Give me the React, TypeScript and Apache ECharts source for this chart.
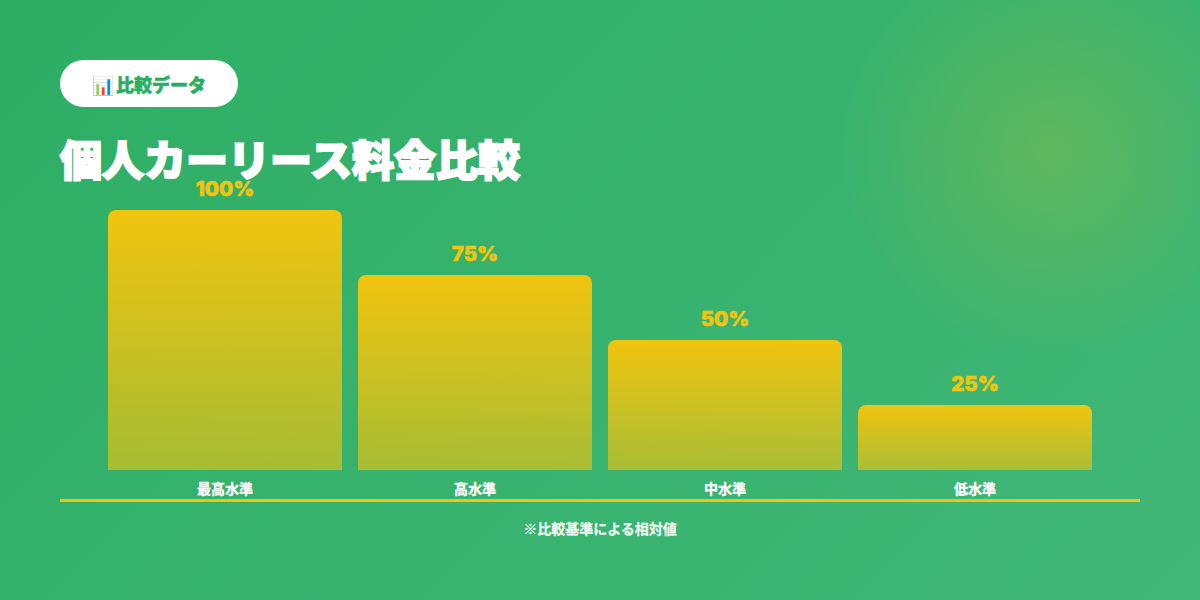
import React, { useEffect, useRef } from "react";
import * as echarts from "echarts";

const categories = ["最高水準", "高水準", "中水準", "低水準"];
const values = [100, 75, 50, 25];
const badgeIcon = "📊";
const badgeText = "比較データ";
const titleText = "個人カーリース料金比較";
const noteText = "※比較基準による相対値";

const FONT = '"Noto Sans CJK JP", "Noto Sans", sans-serif';
const NUM_FONT = 'Inter, sans-serif';
const GOLD = "#f1c40f";

export default function App() {
  const ref = useRef<HTMLDivElement>(null);
  useEffect(() => {
    document.body.style.margin = "0";
    const chart = echarts.init(ref.current!, null, { renderer: "svg" });
    chart.setOption({
      animation: false,
      backgroundColor: "transparent",
      grid: { left: 100, top: 210, width: 1000, height: 260 },
      xAxis: {
        type: "category",
        data: categories,
        axisLine: { show: false },
        axisTick: { show: false },
        axisLabel: {
          color: "#fff",
          fontFamily: FONT,
          fontSize: 14,
          fontWeight: "bold",
          margin: 11,
          textBorderColor: "#fff",
          textBorderWidth: 0.3,
        },
      },
      yAxis: { type: "value", min: 0, max: 100, show: false },
      series: [
        {
          type: "bar",
          data: values,
          barWidth: 234,
          itemStyle: {
            borderRadius: [8, 8, 0, 0],
            color: new echarts.graphic.LinearGradient(0, 0, 0, 1, [
              { offset: 0, color: GOLD },
              { offset: 1, color: "rgba(241,196,15,0.6)" },
            ]),
          },
          label: {
            show: true,
            position: "top",
            distance: 11,
            formatter: "{c}%",
            color: GOLD,
            fontFamily: NUM_FONT,
            fontSize: 20.5,
            fontWeight: 800,
            textBorderColor: GOLD,
            textBorderWidth: 0.7,
          },
        },
      ],
      graphic: [
        { type: "rect", shape: { x: 60, y: 60, width: 178, height: 47, r: 23.5 }, style: { fill: "#fff" } },
        {
          type: "text",
          x: 92,
          y: 84,
          style: {
            text: badgeIcon,
            fill: "#27ae60",
            font: `18px ${FONT}`,
            textVerticalAlign: "middle",
          },
        },
        {
          type: "text",
          x: 116,
          y: 83.5,
          style: {
            text: badgeText,
            fill: "#27ae60",
            font: `900 18px ${FONT}`,
            textVerticalAlign: "middle",
            stroke: "#27ae60",
            lineWidth: 0.5,
          },
        },
        {
          type: "text",
          x: 60,
          y: 157,
          style: {
            text: titleText,
            fill: "#fff",
            font: `900 42px ${FONT}`,
            textVerticalAlign: "middle",
            stroke: "#fff",
            lineWidth: 2,
          },
        },
        { type: "rect", shape: { x: 60, y: 499, width: 1080, height: 3 }, style: { fill: GOLD } },
        {
          type: "text",
          x: 600,
          y: 528,
          style: {
            text: noteText,
            fill: "rgba(255,255,255,0.9)",
            font: `bold 14px ${FONT}`,
            textAlign: "center",
            textVerticalAlign: "middle",
            stroke: "rgba(255,255,255,0.9)",
            lineWidth: 0.3,
          },
        },
      ],
    });
    return () => chart.dispose();
  }, []);
  return (
    <div
      ref={ref}
      style={{
        position: "absolute",
        left: 0,
        top: 0,
        width: 1200,
        height: 600,
        background:
          "radial-gradient(circle 210px at 1050px 150px, rgba(241,196,15,0.2), rgba(241,196,15,0) 100%), linear-gradient(135deg, #2dae64 0%, #41b778 100%)",
      }}
    />
  );
}
